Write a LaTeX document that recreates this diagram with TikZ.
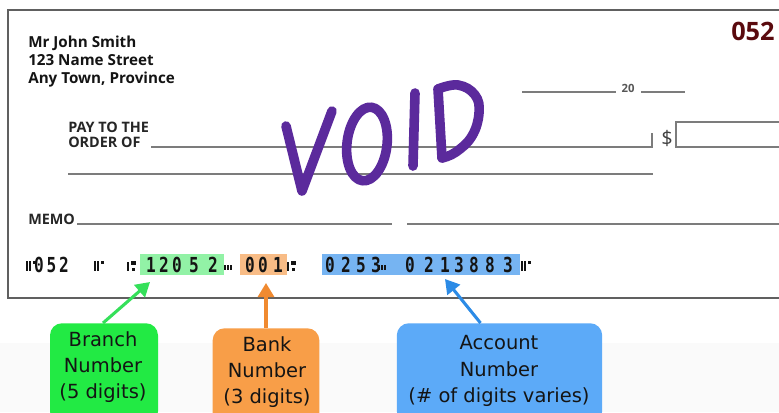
\documentclass[tikz,border=0pt]{standalone}
\usepackage{fontspec}
\setmainfont{Open Sans}
\newfontfamily\calloutfont{DejaVu Sans}
\newfontfamily\micrfont{DejaVu Sans Mono}
\usetikzlibrary{arrows.meta,calc}

\definecolor{rulegray}{HTML}{7C7C7C}
\definecolor{voidpurple}{HTML}{5B2A9C}
\definecolor{chequered}{HTML}{5A0A0E}
\definecolor{greenbox}{HTML}{22EA44}
\definecolor{greenhl}{HTML}{92F2A6}
\definecolor{greenarrow}{HTML}{35E05A}
\definecolor{orangebox}{HTML}{F89E48}
\definecolor{orangehl}{HTML}{F8BC86}
\definecolor{orangearrow}{HTML}{F08A30}
\definecolor{bluebox}{HTML}{5CAAF8}
\definecolor{bluehl}{HTML}{76B4F2}
\definecolor{bluearrow}{HTML}{2C8BE6}
\definecolor{inkdark}{HTML}{141414}

\tikzset{
  ruleline/.style={draw=rulegray, line width=1.1pt},
  voidink/.style={draw=voidpurple, line width=7.2pt, line cap=round, line join=round},
  printed/.style={inner sep=0pt, text=inkdark},
  addrtext/.style={printed, anchor=base west, font=\bfseries\fontsize{11.4}{12}\selectfont},
  formtext/.style={printed, anchor=base west, text=black!85,
    font=\bfseries\fontsize{10.8}{11}\selectfont},
  micr/.style={inner sep=0pt, text=inkdark, xscale=0.78,
    font=\micrfont\bfseries\fontsize{15.5}{15.5}\selectfont},
  micrhl/.style={inner sep=0pt, minimum height=15.75pt},
  calloutbox/.style={rounded corners=9pt, minimum height=75pt, anchor=north, inner sep=0pt},
  callouttext/.style={align=center, inner sep=0pt, text=inkdark,
    font=\calloutfont\fontsize{14.6}{19.6}\selectfont},
  pointer/.style={line width=2.3pt, -{Triangle[width=12pt,length=10.5pt]}},
  pics/onus/.style={code={
    \fill[inkdark] (0,-5.5) rectangle (2,5);
    \fill[inkdark] (3.4,-5.5) rectangle (5.4,5);
    \fill[inkdark] (6.6,-5.5) rectangle (10,-2);
  }},
  pics/transit/.style={code={
    \fill[inkdark] (0,-4) rectangle (2.2,5);
    \fill[inkdark] (4.2,-5.5) rectangle (8.6,-1);
    \fill[inkdark] (4.7,1.5) rectangle (8,5);
  }},
  pics/dashsym/.style={code={
    \fill[inkdark] (0,-1.5) rectangle (1.8,4);
    \fill[inkdark] (3,-1.5) rectangle (4.8,4);
    \fill[inkdark] (6,-1.5) rectangle (7.8,4);
  }},
}

\begin{document}
\begin{tikzpicture}[x=0.75pt, y=-0.75pt]
\useasboundingbox (0,0) rectangle (779,412);
\clip (0,0) rectangle (779,412);
\fill[white] (0,0) rectangle (779,412);
\fill[gray!4] (0,343) rectangle (779,412);

% cheque outline
\draw[draw=gray!75!black, line width=1.5pt, fill=white] (8,10) rectangle (800,298);

% account holder
\node[addrtext] (addr1) at (28,47) {Mr John Smith};
\node[addrtext] (addr2) at (28,65) {123 Name Street};
\node[addrtext] (addr3) at (28,83) {Any Town, Province};

% cheque number
\node[inner sep=0pt, anchor=base west, text=chequered, font=\bfseries\fontsize{19}{19}\selectfont] (chqno) at (731,40) {052};

% date
\draw[ruleline] (522,92) -- (616,92);
\node[printed, anchor=base, text=rulegray!70!black, font=\bfseries\fontsize{8.5}{9}\selectfont] (yr) at (628,92) {20};
\draw[ruleline] (641,92) -- (685,92);

% payee
\node[formtext] (pay1) at (68,132) {PAY TO THE};
\node[formtext] (pay2) at (68,147) {ORDER OF};
\draw[ruleline] (151,147) -- (652,147) -- (652,133);
\node[printed, anchor=base, text=black!75, font=\fontsize{15}{15}\selectfont] (dollar) at (667,145) {\$};
\draw[ruleline] (676,122) rectangle (800,147);
\draw[ruleline] (68,174) -- (653,174);

% memo
\node[formtext] (memo) at (28,224) {MEMO};
\draw[ruleline] (77,224) -- (392,224);
\draw[ruleline] (407,224) -- (800,224);

% handwritten VOID
\draw[voidink] (286,126) -- (302,191) -- (332,111);
\draw[voidink, rotate around={-7:(367,144)}] (367,144) ellipse [x radius=20, y radius=37];
\draw[voidink] (415,93) -- (413,166);
\draw[voidink] (438,89) -- (442,158);
\draw[voidink] plot[smooth, tension=0.7] coordinates {(438,89) (458,85) (475,95) (479,113) (472,136) (456,152) (442,158)};

% MICR band highlights
\node[micrhl, fill=greenhl, minimum width=63pt, anchor=north west] (branchhl) at (140,254) {};
\node[micrhl, fill=orangehl, minimum width=35.25pt, anchor=north west] (bankhl) at (240,254) {};
\node[micrhl, fill=bluehl, minimum width=148.5pt, anchor=north west] (accthl) at (322,254) {};

% MICR symbols
\pic at (26,266) {onus};
\pic at (94,266) {onus};
\pic at (127,266) {transit};
\pic at (224,266) {dashsym};
\pic at (287,266) {transit};
\pic at (378,266) {dashsym};
\pic at (521,266) {onus};

% MICR digits
\foreach \px/\dg [count=\i] in {39/0, 51.5/5, 64/2,
    151/1, 164/2, 177/0, 194/5, 213/2,
    250/0, 263/0, 278/1,
    330/0, 346/2, 361/5, 376/3,
    410/0, 429/2, 445/1, 459/3, 474/8, 490/8, 508/3}
  \node[micr] (micr\i) at (\px,265) {\dg};

% callouts
\node[calloutbox, fill=greenbox, minimum width=81pt] (branchbox) at (104,323) {};
\node[callouttext] (branchtext) at (103,367) {Branch\\Number\\(5 digits)};
\node[calloutbox, fill=orangebox, minimum width=80pt] (bankbox) at (266,328) {};
\node[callouttext] (banktext) at (267,372) {Bank\\Number\\(3 digits)};
\node[calloutbox, fill=bluebox, minimum width=154pt] (acctbox) at (499.5,323) {};
\node[callouttext] (accttext) at (499,371) {Account\\Number\\(\# of digits varies)};

% pointers
\coordinate (branchtip) at (150,282);
\coordinate (banktip) at (266,283);
\coordinate (accttip) at (445,279);
\draw[pointer, draw=greenarrow, fill=greenarrow] ($(branchbox.north)+(-1,0)$) -- (branchtip);
\draw[pointer, draw=orangearrow, fill=orangearrow] (bankbox.north) -- (banktip);
\draw[pointer, draw=bluearrow, fill=bluearrow] ($(acctbox.north)+(-19,0)$) -- (accttip);
\end{tikzpicture}
\end{document}
